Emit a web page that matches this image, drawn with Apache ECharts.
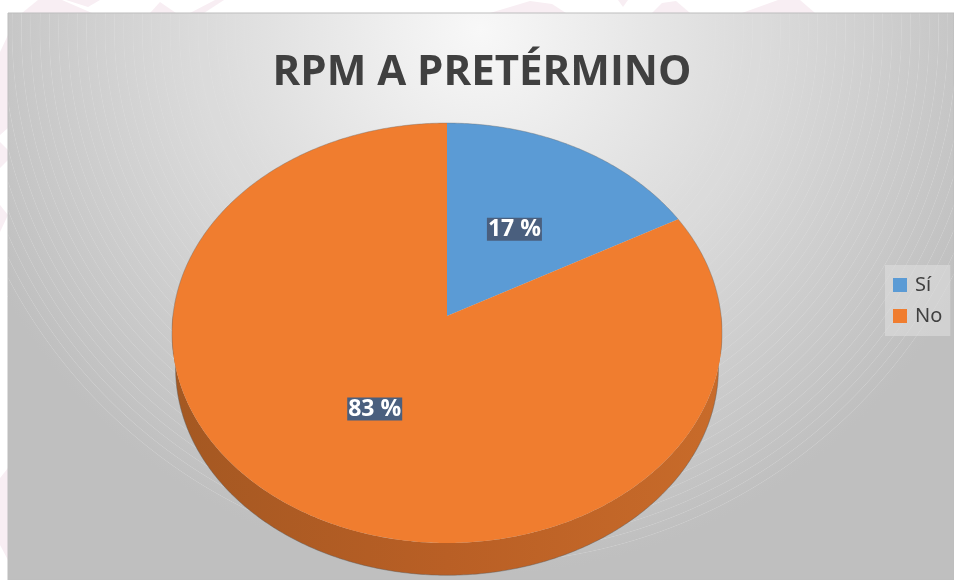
<!DOCTYPE html>
<html>
<head>
<meta charset="utf-8">
<style>
html, body { margin: 0; padding: 0; background: #fff; }
#chart { width: 954px; height: 580px; }
</style>
<script src="https://cdn.jsdelivr.net/npm/echarts@6/dist/echarts.min.js"></script>
</head>
<body>
<div id="chart"></div>
<script>
var categories = ['Sí', 'No'];
var values = [17, 83];
var colors = ['#5b9bd5', '#f07d2f'];

var chart = echarts.init(document.getElementById('chart'));

// pie sits on a tilted plane: a projective map from the unit disc to the screen
var cx = 447, apexY = 316;
var tilt = 0.081, scaleX = 274.1, scaleY = 208.6;
var depth = 35, lowerScale = 0.987;
var total = values.reduce(function (a, b) { return a + b; }, 0);

function project(angle, r, isLower) {
    var u = Math.sin(angle) * r, v = Math.cos(angle) * r;
    var w = 1 + tilt * v;
    var k = isLower ? lowerScale : 1;
    var midY = 333;
    var x = scaleX * u / w, y = apexY - scaleY * v / w;
    return [cx + x * k, isLower ? midY + depth + (y - midY) * k : y];
}

function arc(from, to, isLower) {
    var pts = [];
    var steps = Math.max(2, Math.ceil(Math.abs(to - from) / 0.01));
    for (var i = 0; i <= steps; i++) {
        pts.push(project(from + (to - from) * i / steps, 1, isLower));
    }
    return pts;
}

function renderSlice(params, api) {
    var idx = params.seriesIndex;
    var before = values.slice(0, idx).reduce(function (a, b) { return a + b; }, 0);
    var start = before / total * Math.PI * 2;
    var end = (before + api.value(0)) / total * Math.PI * 2;
    var color = api.visual('color');
    var children = [];

    // side wall, only on the front part of the rim
    var wallFrom = Math.max(start, 1.55), wallTo = Math.min(end, 4.73);
    if (wallTo > wallFrom) {
        var lower = arc(wallFrom, wallTo, true);
        children.push({
            type: 'polygon',
            shape: { points: arc(wallFrom, wallTo, false).concat(lower.slice().reverse()) },
            style: {
                fill: new echarts.graphic.LinearGradient(0, 0, 1, 0, [
                    { offset: 0, color: '#a45822' },
                    { offset: 0.5, color: '#b95f25' },
                    { offset: 1, color: '#c86b2a' }
                ])
            }
        });
        children.push({
            type: 'polyline',
            shape: { points: lower },
            style: { fill: null, stroke: 'rgba(90,90,90,0.55)', lineWidth: 0.8 }
        });
    }

    // top face
    children.push({
        type: 'polygon',
        shape: { points: [[cx, apexY]].concat(arc(start, end, false)) },
        style: { fill: color }
    });
    // thin grey edge on the back of the rim
    var rimParts = [[start, Math.min(end, 1.75)], [Math.max(start, 4.53), end]];
    rimParts.forEach(function (p) {
        if (p[1] > p[0]) {
            children.push({
                type: 'polyline',
                shape: { points: arc(p[0], p[1], false) },
                style: { fill: null, stroke: 'rgba(110,110,110,0.5)', lineWidth: 0.8 }
            });
        }
    });

    // label in the middle of the slice
    var pos = project((start + end) / 2, 0.5, false);
    children.push({
        type: 'text',
        style: {
            x: pos[0], y: pos[1],
            text: api.value(0) + ' %',
            fill: '#fff',
            font: 'bold 23px "Open Sans", sans-serif',
            align: 'center',
            verticalAlign: 'middle',
            backgroundColor: '#4a5f7e',
            padding: [0, 1, 0, 1]
        }
    });
    return { type: 'group', children: children };
}

var series = categories.map(function (name, i) {
    return {
        type: 'custom',
        name: name,
        coordinateSystem: 'none',
        silent: true,
        itemStyle: { color: colors[i] },
        renderItem: renderSlice,
        data: [[values[i]]]
    };
});

// background: soft round gradient with the faint banding rings
var bgStops = [];
var bgR = 545, ringGap = 9.3;
function grey(t, add) {
    var g = Math.round(248 - 57 * t + add);
    return 'rgb(' + g + ',' + g + ',' + g + ')';
}
bgStops.push({ offset: 0, color: grey(0, 0) });
for (var r = 533; r > 230; r -= ringGap) {
    var t = r / bgR;
    bgStops.push({ offset: t - 0.6 / bgR, color: grey(t, 0) });
    bgStops.push({ offset: t, color: grey(t, 22 * (t - 0.4)) });
    bgStops.push({ offset: t + 0.6 / bgR, color: grey(t, 0) });
}
bgStops.sort(function (a, b) { return a.offset - b.offset; });
bgStops.push({ offset: 1, color: grey(1, 0) });

// pale watermark peeking out around the frame
var pink = '#f8eef3';
var watermark = [
    [[22, 13], [38, 0], [62, 0], [92, 13]],
    [[66, 0], [100, 0], [88, 7]],
    [[150, 13], [160, 2], [176, 13]],
    [[190, 13], [215, 0], [224, 0], [204, 13]],
    [[490, 13], [530, 1], [552, 4], [566, 13]],
    [[618, 0], [628, 0], [623, 7]],
    [[652, 13], [662, 3], [676, 1], [690, 13]],
    [[742, 13], [778, 0], [800, 0], [815, 13]],
    [[8, 35], [0, 52], [0, 135], [8, 128]],
    [[8, 150], [0, 142], [0, 168], [8, 160]],
    [[8, 215], [0, 205], [0, 232]],
    [[8, 468], [0, 478], [0, 545], [8, 560]]
];
var graphics = watermark.map(function (pts) {
    return { type: 'polygon', z: -2, silent: true, shape: { points: pts }, style: { fill: pink } };
});
graphics.push({
    type: 'rect',
    z: -1,
    silent: true,
    shape: { x: 8, y: 13, width: 946, height: 567 },
    style: {
        fill: new echarts.graphic.RadialGradient(480, 30, bgR, bgStops, true),
        stroke: '#bdbdbd',
        lineWidth: 1
    }
});

chart.setOption({
    animation: false,
    backgroundColor: '#fff',
    graphic: graphics,
    title: {
        text: 'RPM A PRETÉRMINO',
        left: 477,
        top: 47,
        textAlign: 'center',
        textStyle: {
            color: '#404040',
            fontFamily: '"Open Sans", sans-serif',
            fontWeight: 'bold',
            fontSize: 42
        }
    },
    legend: {
        data: categories,
        orient: 'vertical',
        left: 885,
        top: 265,
        padding: [10, 8, 10, 8],
        itemWidth: 14,
        itemHeight: 14,
        itemGap: 11,
        icon: 'rect',
        backgroundColor: 'rgba(222,222,222,0.6)',
        selectedMode: false,
        textStyle: {
            color: '#404040',
            fontFamily: '"Noto Sans", sans-serif',
            fontSize: 20,
            padding: [0, 0, 0, 3]
        }
    },
    series: series
});
</script>
</body>
</html>
